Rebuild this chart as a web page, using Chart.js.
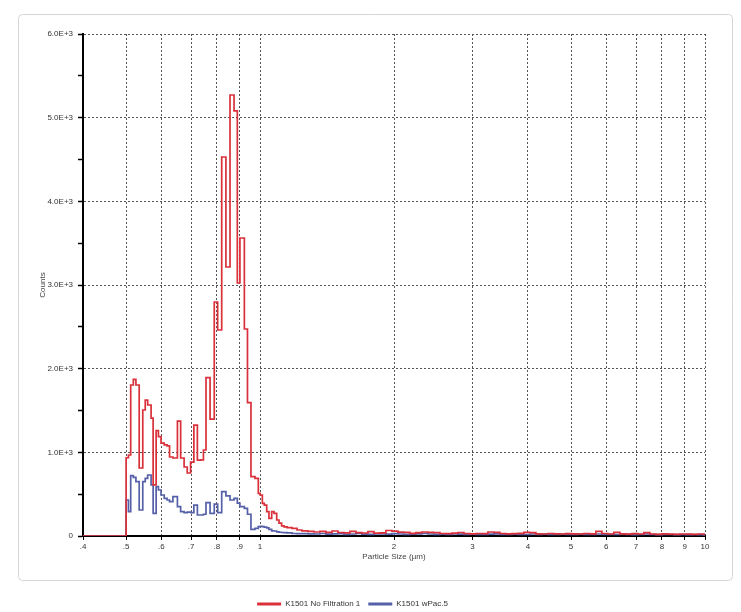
<!DOCTYPE html>
<html>
<head>
<meta charset="utf-8">
<script src="https://cdn.jsdelivr.net/npm/chart.js@4.4.1/dist/chart.umd.min.js"></script>
<style>
  html, body { margin: 0; padding: 0; background: #fff; overflow: hidden; }
  canvas { display: block; }
</style>
</head>
<body>
<canvas id="myChart" width="741" height="618"></canvas>
<script>
// bin left edges (um)
const sizes = [
  0.500, 0.506, 0.512, 0.519, 0.526, 0.535, 0.545, 0.552, 0.559, 0.569,
  0.575, 0.584, 0.591, 0.599, 0.609, 0.618, 0.626, 0.637, 0.652, 0.663,
  0.675, 0.686, 0.698, 0.710, 0.723, 0.736, 0.746, 0.756, 0.772, 0.789,
  0.803, 0.820, 0.838, 0.856, 0.874, 0.889, 0.901, 0.922, 0.937, 0.954,
  0.974, 0.991, 1.000, 1.012, 1.022, 1.035, 1.047, 1.062, 1.075, 1.090,
  1.103, 1.118, 1.132, 1.150, 1.180, 1.211,
  1.242, 1.281, 1.322, 1.363, 1.406, 1.451, 1.496, 1.544, 1.592, 1.642,
  1.694, 1.748, 1.803, 1.860, 1.918, 1.979, 2.041, 2.105, 2.172, 2.240,
  2.311, 2.384, 2.459, 2.537, 2.617, 2.699, 2.784, 2.872, 2.963, 3.056,
  3.152, 3.252, 3.354, 3.460, 3.569, 3.682, 3.798, 3.917, 4.041, 4.168,
  4.300, 4.435, 4.575, 4.719, 4.868, 5.022, 5.180, 5.343, 5.512, 5.686,
  5.865, 6.050, 6.241, 6.437, 6.640, 6.850, 7.066, 7.288, 7.518, 7.755,
  8.000, 8.252, 8.512, 8.781, 9.058, 9.343, 9.638, 9.942
];
const sizeMin = 0.4;
const sizeMax = 10;

// K1501 No Filtration 1
const noFiltration = [
  935, 968, 1805, 1873, 1805, 813, 1506, 1625, 1566, 1410,
  610, 1259, 1187, 1111, 1088, 1076, 944, 932, 1374, 932,
  825, 753, 884, 1326, 908, 910, 1028, 1892, 1398, 2797,
  2462, 4530, 3215, 5271, 5080, 3024, 3562, 2474, 1593, 709,
  689, 510, 490, 391, 370, 291, 211, 291, 271, 191,
  155, 120, 108, 100, 90, 72,
  62, 55, 48, 56, 44, 60, 42, 38, 55, 40,
  36, 52, 34, 38, 66, 58, 46, 44, 32, 40,
  48, 44, 40, 30, 28, 34, 42, 30, 26, 30,
  28, 48, 44, 30, 26, 28, 32, 44, 40, 26,
  24, 30, 26, 24, 28, 26, 24, 30, 26, 56,
  30, 24, 44, 26, 22, 28, 24, 40, 24, 20,
  26, 22, 20, 24, 22, 20, 24, 20
];

// K1501 wPac.5
const wPac = [
  430, 291, 721, 700, 649, 311, 649, 689, 729, 610,
  271, 590, 550, 490, 450, 430, 410, 470, 351, 291,
  280, 285, 280, 370, 251, 251, 260, 400, 271, 380,
  280, 530, 480, 430, 450, 394, 351, 331, 260, 80,
  90, 112, 115, 112, 105, 96, 80, 62, 60, 50,
  45, 42, 40, 38, 30, 28,
  28, 26, 24, 30, 22, 26, 28, 20, 24, 30,
  22, 20, 24, 26, 22, 28, 24, 20, 22, 26,
  30, 24, 20, 22, 18, 26, 22, 20, 24, 18,
  20, 22, 26, 20, 18, 22, 20, 18, 24, 20,
  22, 18, 20, 24, 18, 20, 22, 18, 20, 24,
  18, 20, 18, 22, 20, 16, 18, 24, 18, 16,
  20, 18, 16, 18, 16, 18, 16, 14
];

const seriesNames = ['K1501 No Filtration 1', 'K1501 wPac.5'];
const seriesColors = ['#d9303a', '#5560a8'];

const xTicks = [0.4, 0.5, 0.6, 0.7, 0.8, 0.9, 1, 2, 3, 4, 5, 6, 7, 8, 9, 10];
const xTickLabels = ['.4', '.5', '.6', '.7', '.8', '.9', '1', '2', '3', '4', '5', '6', '7', '8', '9', '10'];
const yTicks = [0, 500, 1000, 1500, 2000, 2500, 3000, 3500, 4000, 4500, 5000, 5500, 6000];
const yTickLabels = ['0', '', '1.0E+3', '', '2.0E+3', '', '3.0E+3', '', '4.0E+3', '', '5.0E+3', '', '6.0E+3'];

const font = 'Liberation Sans, Arial, sans-serif';

// histogram as step points, flat zero from .4 up to first bin
function toSteps(values) {
  const pts = [{x: sizeMin, y: 0}];
  values.forEach((v, i) => pts.push({x: sizes[i], y: v}));
  pts.push({x: sizeMax, y: values[values.length - 1]});
  return pts;
}

// light rounded frame round the plot
const framePlugin = {
  id: 'frame',
  beforeDraw(chart) {
    const c = chart.ctx;
    c.save();
    c.fillStyle = '#fff';
    c.fillRect(0, 0, chart.width, chart.height);
    c.strokeStyle = '#d6d6d6';
    c.lineWidth = 1;
    c.beginPath();
    c.roundRect(18.5, 14.5, 714, 566, 4);
    c.stroke();
    c.restore();
  }
};

const ctx = document.getElementById('myChart');
new Chart(ctx, {
  type: 'line',
  data: {
    datasets: [noFiltration, wPac].map((vals, i) => ({
      label: seriesNames[i],
      data: toSteps(vals),
      borderColor: seriesColors[i],
      backgroundColor: seriesColors[i],
      borderWidth: 1.7,
      // horizontal run first, then the jump: a histogram bar from each left edge
      stepped: 'before',
      pointRadius: 0,
      fill: false
    }))
  },
  options: {
    responsive: false,
    animation: false,
    layout: { padding: { left: 0, right: 36, top: 34, bottom: 0 } },
    plugins: {
      tooltip: { enabled: false },
      legend: {
        position: 'bottom',
        labels: {
          boxWidth: 24,
          boxHeight: 3,
          padding: 8,
          color: '#333',
          font: { size: 8, family: font },
          generateLabels: chart => Chart.defaults.plugins.legend.labels.generateLabels(chart).map(l => Object.assign(l, {lineWidth: 0}))
        }
      }
    },
    scales: {
      x: {
        type: 'logarithmic',
        min: sizeMin,
        max: sizeMax,
        afterBuildTicks: s => { s.ticks = xTicks.map(v => ({value: v})); },
        afterFit: s => { s.height = 56; },
        ticks: {
          autoSkip: false,
          maxRotation: 0,
          padding: 2,
          color: '#333',
          font: { size: 8, family: font },
          callback: (v, i) => xTickLabels[i]
        },
        grid: { color: '#555', lineWidth: 1, tickColor: '#000', tickLength: 4, tickWidth: 1 },
        border: { color: '#000', width: 2, dash: [2, 2] },
        title: {
          display: true,
          text: 'Particle Size (µm)',
          color: '#444',
          font: { size: 8, family: font },
          padding: { top: 0, bottom: 30 }
        }
      },
      y: {
        min: 0,
        max: 6000,
        afterBuildTicks: s => { s.ticks = yTicks.map(v => ({value: v})); },
        afterFit: s => { s.width = 83; },
        ticks: {
          autoSkip: false,
          padding: 5,
          color: '#333',
          font: { size: 8, family: font },
          callback: (v, i) => yTickLabels[i]
        },
        grid: {
          color: c => (c.tick && c.tick.value % 1000 === 0) ? '#555' : 'rgba(0,0,0,0)',
          lineWidth: 1,
          tickColor: '#000',
          tickLength: 5,
          tickWidth: 1.5
        },
        border: { color: '#000', width: 2, dash: [2, 2] },
        title: {
          display: true,
          text: 'Counts',
          color: '#444',
          font: { size: 8, family: font },
          padding: { top: 38, bottom: 0 }
        }
      }
    }
  },
  plugins: [framePlugin]
});
</script>
</body>
</html>
